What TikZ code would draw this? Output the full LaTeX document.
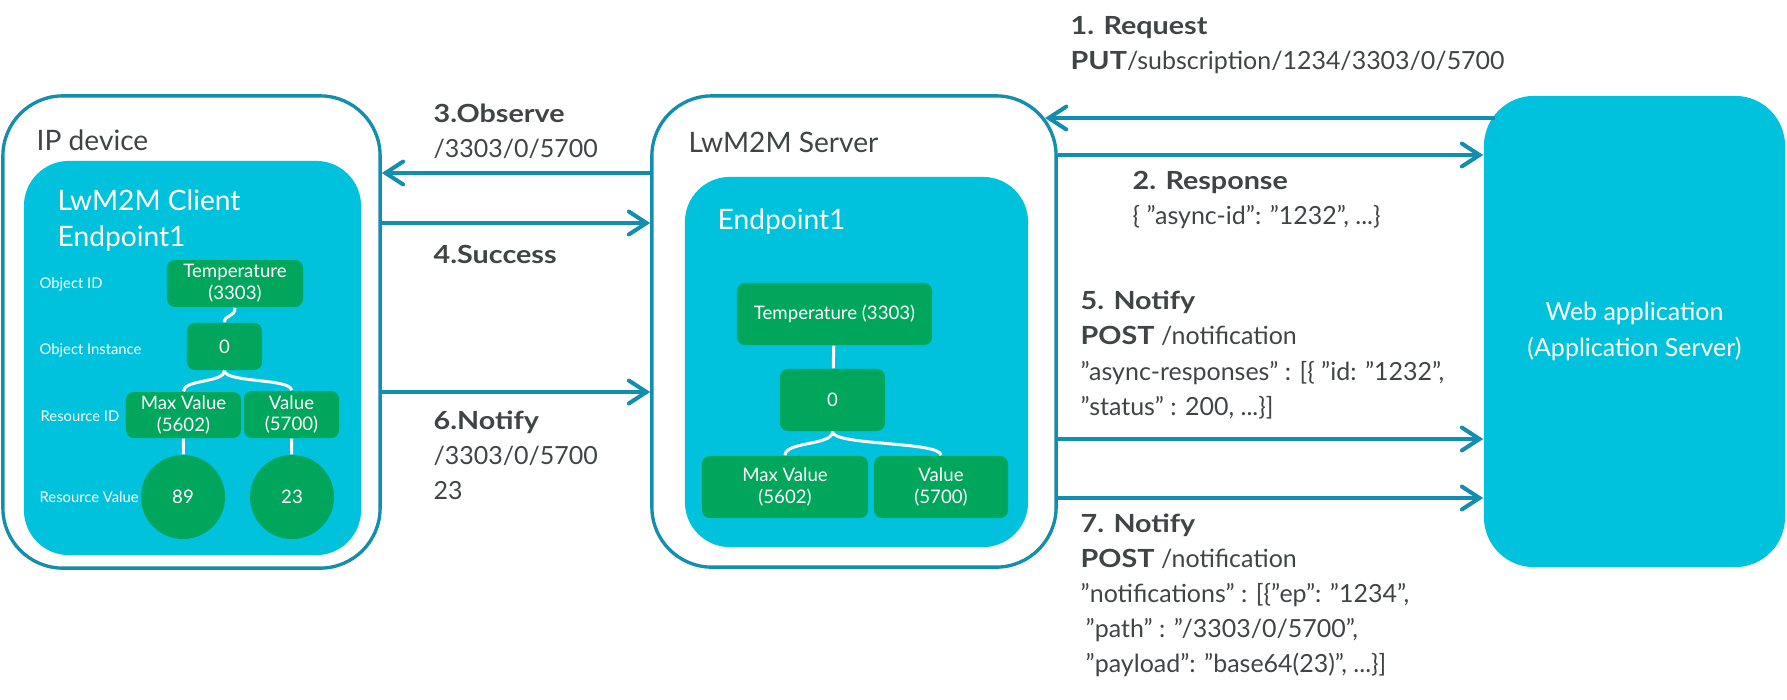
\documentclass[tikz,border=0pt]{standalone}
\usepackage{fontspec}
\setmainfont{Lato}[BoldFeatures={FakeStretch=1.15}]
\usetikzlibrary{arrows.meta}
\definecolor{lineblue}{RGB}{19,142,174}
\definecolor{boxcyan}{RGB}{0,194,220}
\definecolor{objgreen}{RGB}{0,166,92}
\definecolor{textgray}{RGB}{64,68,69}
\begin{document}
\begin{tikzpicture}[x=0.01cm,y=-0.01cm,
        font=\fontsize{7.1}{10}\selectfont, text=textgray,
        outer/.style={draw=lineblue,line width=0.95pt,rounded corners=0.6cm,fill=white},
        inner/.style={fill=boxcyan,rounded corners=0.45cm},
        obj/.style={fill=objgreen,rounded corners=0.08cm,text=white,align=center,inner sep=0pt,font=\fontsize{5.3}{6.2}\selectfont},
        msg/.style={draw=lineblue,line width=1.15pt,-{Straight Barb[length=5pt,width=6.5pt,line cap=round]}},
        link/.style={draw=white,line width=0.85pt},
        lbl/.style={anchor=west,inner sep=0pt,text=white,font=\fontsize{4.2}{5}\selectfont},
        txt/.style={anchor=west,inner sep=0pt,align=left},
        title/.style={txt,font=\fontsize{8}{10}\selectfont}]
    \useasboundingbox (0,0) rectangle (1787,699);

    % boxes
    \node[outer,minimum width=3.77cm,minimum height=4.72cm] (ipdev) at (191.5,332) {};
    \node[inner,minimum width=3.37cm,minimum height=3.94cm] (client) at (192.5,358) {};
    \node[outer,minimum width=4.04cm,minimum height=4.71cm] (server) at (854,331.5) {};
    \node[inner,minimum width=3.43cm,minimum height=3.70cm] (endpt) at (856.5,362) {};
    \node[fill=boxcyan,rounded corners=0.5cm,minimum width=3.01cm,minimum height=4.71cm,text=white,align=center] (webapp) at (1634.5,331.5) {Web application\\(Application Server)};

    \node[title] (iptitle) at (36,140) {IP device};
    \node[title] (srvtitle) at (688,142) {LwM2M Server};
    \node[title,text=white] (clititle) at (57,220.5) {LwM2M Client\\Endpoint1};
    \node[title,text=white] (eptitle) at (717,222) {Endpoint1};

    % client tree
    \node[lbl] (lobj) at (39,284) {Object ID};
    \node[lbl] (linst) at (39,350) {Object Instance};
    \node[lbl] (lres) at (40,416) {Resource ID};
    \node[lbl] (lval) at (39,497) {Resource Value};
    \node[obj,minimum width=1.36cm,minimum height=0.47cm] (ctemp) at (235,283.5) {Temperature\\(3303)};
    \node[obj,minimum width=0.75cm,minimum height=0.47cm] (czero) at (224.5,346.5) {0};
    \node[obj,minimum width=1.15cm,minimum height=0.46cm] (cmax) at (183.5,415) {Max Value\\(5602)};
    \node[obj,minimum width=0.95cm,minimum height=0.47cm] (cval) at (291.5,414.5) {Value\\(5700)};
    \node[obj,circle,minimum size=0.84cm] (c89) at (183,497) {89};
    \node[obj,circle,minimum size=0.84cm] (c23) at (292,497) {23};
    \draw[link] (ctemp.south) .. controls +(0,10) and +(0,-8) .. (czero.north);
    \draw[link] (czero.south) .. controls +(0,12) and +(0,-12) .. (cmax.north);
    \draw[link] (czero.south) .. controls +(0,12) and +(0,-12) .. (cval.north);
    \draw[link] (cmax) -- (c89);
    \draw[link] (cval) -- (c23);

    % server tree
    \node[obj,minimum width=1.95cm,minimum height=0.62cm] (stemp) at (834.5,314) {Temperature (3303)};
    \node[obj,minimum width=1.05cm,minimum height=0.62cm] (szero) at (832.5,400) {0};
    \node[obj,minimum width=1.66cm,minimum height=0.62cm] (smax) at (785,487) {Max Value\\(5602)};
    \node[obj,minimum width=1.34cm,minimum height=0.62cm] (sval) at (941,487) {Value\\(5700)};
    \draw[link] (stemp) -- (szero);
    \draw[link] (szero.south) .. controls +(0,14) and +(0,-14) .. (smax.north);
    \draw[link] (szero.south) .. controls +(0,14) and +(0,-14) .. (sval.north);

    % messages
    \coordinate (m1) at (1495,118);
    \coordinate (m1e) at (1045,118);
    \coordinate (h2) at (0,155);
    \coordinate (h3) at (0,173);
    \coordinate (h4) at (0,223);
    \coordinate (h6) at (0,392);
    \coordinate (h5) at (0,439);
    \coordinate (h7) at (0,498);
    \draw[msg] (m1) -- (m1e);
    \draw[msg] (server.east |- h2) -- (webapp.west |- h2);
    \draw[msg] (server.west |- h3) -- (ipdev.east |- h3);
    \draw[msg] (ipdev.east |- h4) -- (server.west |- h4);
    \draw[msg] (server.east |- h5) -- (webapp.west |- h5);
    \draw[msg] (ipdev.east |- h6) -- (server.west |- h6);
    \draw[msg] (server.east |- h7) -- (webapp.west |- h7);

    \node[txt] (req) at (1070,45.5) {\textbf{1. Request}\\\textbf{PUT}/subscription/1234/3303/0/5700};
    \node[txt] (resp) at (1132,200) {\textbf{2. Response}\\\{ ”async-id”: ”1232”, ...\}};
    \node[txt] (obs) at (433,131.5) {\textbf{3.Observe}\\/3303/0/5700};
    \node[txt] (succ) at (433,254) {\textbf{4.Success}};
    \node[txt] (not5) at (1080,355) {\textbf{5. Notify}\\\textbf{POST} /notification\\”async-responses” : [\{ ”id: ”1232”,\\”status” : 200, ...\}]};
    \node[txt] (not6) at (433,455) {\textbf{6.Notify}\\/3303/0/5700\\23};
    \node[txt] (not7) at (1080,595.5) {\textbf{7. Notify}\\\textbf{POST} /notification\\”notifications” : [\{”ep”: ”1234”,\\\hspace{0.2em}”path” : ”/3303/0/5700”,\\\hspace{0.2em}”payload”: ”base64(23)”, ...\}]};
\end{tikzpicture}
\end{document}
